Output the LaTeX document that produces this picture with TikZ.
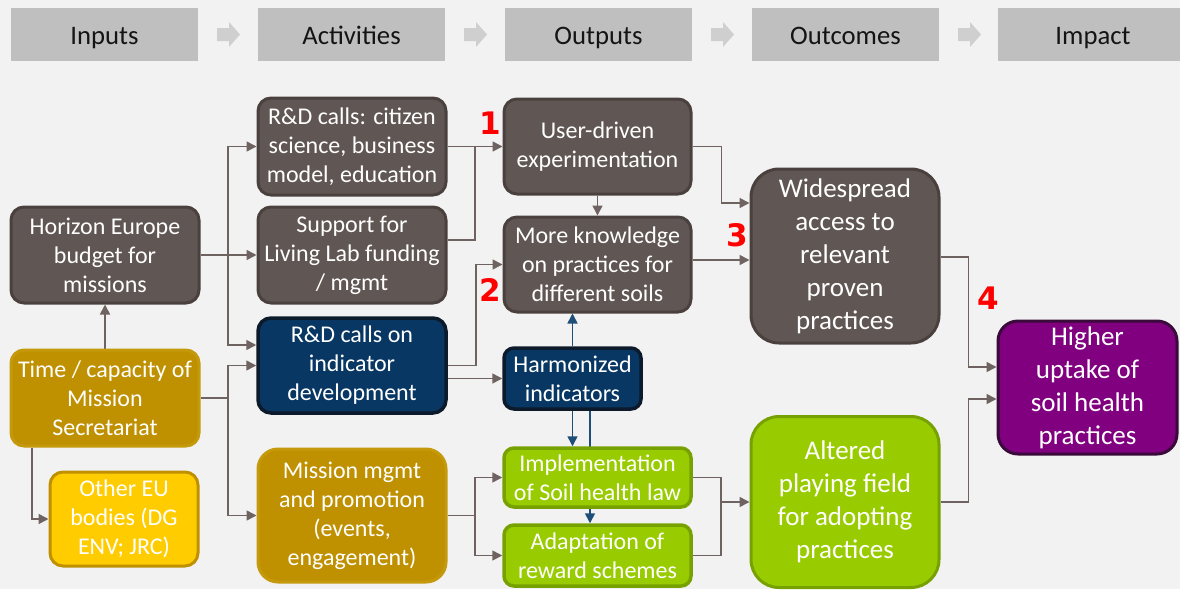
\documentclass[tikz,border=0pt]{standalone}
\usepackage{fontspec}
\setmainfont{Carlito}
\newfontfamily\numfont{DejaVu Sans}
\usetikzlibrary{arrows.meta}
\pgfdeclarelayer{bg}
\pgfdeclarelayer{edges}
\pgfsetlayers{bg,edges,main}
\definecolor{bgc}{HTML}{F2F2F2}
\definecolor{hdrF}{HTML}{BFBFBF}
\definecolor{hdrA}{HTML}{CFCFCF}
\definecolor{brownF}{HTML}{605653}
\definecolor{brownD}{HTML}{4A413E}
\definecolor{navyF}{HTML}{083763}
\definecolor{navyD}{HTML}{0C1A2B}
\definecolor{goldF}{HTML}{BF9000}
\definecolor{goldD}{HTML}{C49A0C}
\definecolor{yelF}{HTML}{FFCC00}
\definecolor{greenF}{HTML}{99CC00}
\definecolor{greenD}{HTML}{76A100}
\definecolor{purF}{HTML}{800080}
\definecolor{purD}{HTML}{3A0A3A}
\definecolor{connC}{HTML}{6E6360}
\definecolor{blueC}{HTML}{1F4E79}
\definecolor{numC}{HTML}{FF0000}
\tikzset{
  hdr/.style={rectangle, fill=hdrF, draw=none, minimum width=187pt, minimum height=53pt,
    inner sep=0pt, text height=19pt, text depth=0pt, text=black!92, font=\fontsize{26.7}{32}\selectfont},
  box/.style={rectangle, rounded corners=13pt, line width=3pt, text=white, align=center,
    inner sep=0pt, font=\fontsize{24}{29}\selectfont},
  bigbox/.style={box, rounded corners=28pt, font=\fontsize{27}{33}\selectfont},
  brownbox/.style={box, fill=brownF, draw=brownD},
  navybox/.style={box, fill=navyF, draw=navyD, line width=3.5pt},
  goldbox/.style={box, fill=goldF, draw=goldD},
  yelbox/.style={box, fill=yelF, draw=goldF},
  greenbox/.style={box, fill=greenF, draw=greenD, line width=3.5pt},
  purbox/.style={box, fill=purF, draw=purD},
  plainline/.style={draw=connC, line width=1.6pt},
  conn/.style={plainline, -{Triangle[length=10pt,width=10pt]}},
  bconn/.style={draw=blueC, line width=1.6pt, -{Triangle[length=10pt,width=10pt]}},
  numlab/.style={text=numC, font=\numfont\bfseries\fontsize{31}{31}\selectfont, inner sep=0pt},
}
\begin{document}
\begin{tikzpicture}[x=1pt,y=-1pt]
\useasboundingbox (0,0) rectangle (1180,589);
\begin{pgfonlayer}{bg}
\fill[bgc] (0,0) rectangle (1180,589);
\end{pgfonlayer}

% header
\node[hdr] (hIn)  at (104.5,34.5) {Inputs};
\node[hdr] (hAct) at (351.5,34.5) {Activities};
\node[hdr] (hOut) at (598.5,34.5) {Outputs};
\node[hdr] (hOc)  at (845.5,34.5) {Outcomes};
\node[hdr, minimum width=190pt] (hImp) at (1093,34.5) {Impact};
\foreach \x in {217,464,711,958}{
  \fill[hdrA] (\x,28) -- (\x+12,28) -- (\x+12,22) -- (\x+23,34.5) -- (\x+12,47) -- (\x+12,41) -- (\x,41) -- cycle;
}

% inputs
\node[brownbox, minimum width=188pt, minimum height=96pt] (hor) at (105,255) {Horizon Europe\\budget for\\missions};
\node[goldbox, minimum width=188pt, minimum height=96pt] (time) at (105,398) {Time / capacity of\\Mission\\Secretariat};
\node[yelbox, minimum width=148pt, minimum height=94pt] (oeu) at (124,519) {Other EU\\bodies (DG\\ENV; JRC)};

% activities
\node[brownbox, minimum width=188pt, minimum height=97pt] (rdc) at (352,146.5) {R\&D calls: citizen\\science, business\\model, education};
\node[brownbox, minimum width=188pt, minimum height=96pt] (sup) at (352,255) {Support for\\Living Lab funding\\/ mgmt};
\node[navybox, minimum width=188pt, minimum height=95pt] (rdi) at (352,365.5) {R\&D calls on\\indicator\\development};
\node[goldbox, rounded corners=20pt, minimum width=188pt, minimum height=133pt] (mm) at (352,515.5) {Mission mgmt\\and promotion\\(events,\\engagement)};

% outputs
\node[brownbox, minimum width=187pt, minimum height=95pt] (ud) at (597.5,146.5) {User-driven\\experimentation};
\node[brownbox, minimum width=187pt, minimum height=95pt] (mk) at (597.5,264.5) {More knowledge\\on practices for\\different soils};
\node[navybox, rounded corners=10pt, minimum width=137pt, minimum height=61pt] (harm) at (572.5,378.5) {Harmonized\\indicators};
\node[greenbox, rounded corners=10pt, minimum width=187pt, minimum height=59pt] (impl) at (597.5,477.5) {Implementation\\of Soil health law};
\node[greenbox, rounded corners=10pt, minimum width=187pt, minimum height=61pt] (adap) at (597.5,555.5) {Adaptation of\\reward schemes};

% outcomes
\node[brownbox, bigbox, minimum width=188pt, minimum height=174pt] (wide) at (845,256) {Widespread\\access to\\relevant\\proven\\practices};
\node[greenbox, bigbox, minimum width=188pt, minimum height=171pt] (alt) at (845,502) {Altered\\playing field\\for adopting\\practices};

% impact
\node[purbox, bigbox, rounded corners=20pt, minimum width=179pt, minimum height=133pt] (high) at (1087.5,387.5) {Higher\\uptake of\\soil health\\practices};

% numbers
\node[numlab] (n1) at (490,123) {1};
\node[numlab] (n2) at (490,290) {2};
\node[numlab] (n3) at (737,235) {3};
\node[numlab] (n4) at (988,298) {4};

\begin{pgfonlayer}{edges}
\coordinate (ja) at (228,255);
\draw[conn] (hor.east) -- (sup.west);
\draw[conn] (ja) |- (rdc.west);
\draw[conn] (ja) |- ([yshift=20.5pt]rdi.west);
\coordinate (jb) at (228,398);
\draw[plainline] (time.east) -- (jb);
\draw[conn] (jb) |- (rdi.west);
\draw[conn] (jb) |- (mm.west);
\draw[conn] (time.north) -- (hor.south);
\draw[conn] ([xshift=-73pt]time.south) |- (oeu.west);

\coordinate (jc) at (475,146.5);
\draw[conn] (rdc.east) -- (ud.west);
\draw[plainline] ([yshift=15pt]sup.east) -| (jc);
\draw[conn] (rdi.east) -- ++(28pt,0) |- (mk.west);
\draw[conn] ([yshift=-13pt]rdi.east) -- (harm.west);
\draw[conn] (ud.south) -- (mk.north);
\draw[conn] (ud.east) -- ++(29pt,0) |- ([yshift=53pt]wide.west);
\draw[conn] ([yshift=4.5pt]mk.east) -- ([yshift=-4pt]wide.west);

\draw[bconn] (harm.north) -- (harm.north |- mk.south);
\draw[bconn] (harm.south) -- (harm.south |- impl.north);
\draw[bconn] ([xshift=17.5pt]harm.south) -- ([xshift=17.5pt]harm.south |- adap.north);

\coordinate (jd) at (475,515.5);
\draw[plainline] (mm.east) -- (jd);
\draw[conn] (jd) |- (impl.west);
\draw[conn] (jd) |- (adap.west);
\coordinate (je) at (721,502);
\draw[plainline] (impl.east) -| (je);
\draw[plainline] (adap.east) -| (je);
\draw[conn] (je) -- (alt.west);

\draw[conn] ([yshift=-1pt]wide.east) -- ++(28pt,0) |- ([yshift=20.5pt]high.west);
\draw[conn] (alt.east) -- ++(28pt,0) |- ([yshift=-11.5pt]high.west);
\end{pgfonlayer}
\end{tikzpicture}
\end{document}
